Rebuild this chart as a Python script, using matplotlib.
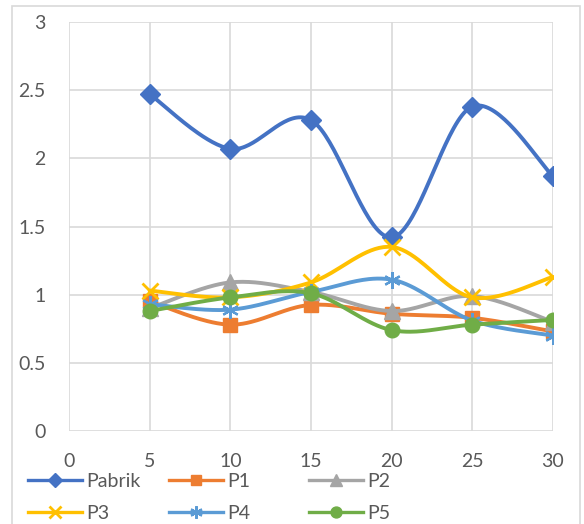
import numpy as np
import matplotlib.pyplot as plt
from matplotlib.lines import Line2D
from matplotlib.patches import Rectangle

plt.rcParams["font.family"] = ["Lato", "DejaVu Sans"]

# sampling distance and measured values per site
jarak = [5, 10, 15, 20, 25, 30]
pabrik = [2.47, 2.07, 2.28, 1.42, 2.38, 1.87]
p1 = [0.95, 0.78, 0.925, 0.86, 0.83, 0.73]
p2 = [0.90, 1.09, 1.02, 0.88, 0.99, 0.80]
p3 = [1.03, 0.98, 1.09, 1.35, 0.98, 1.13]
p4 = [0.93, 0.89, 1.02, 1.11, 0.81, 0.70]
p5 = [0.88, 0.98, 1.01, 0.74, 0.78, 0.815]

series = [
    ("Pabrik", pabrik, "#4472C4", dict(marker="D", markersize=10)),
    ("P1", p1, "#ED7D31", dict(marker="s", markersize=9.5)),
    ("P2", p2, "#A5A5A5", dict(marker="^", markersize=11)),
    ("P3", p3, "#FFC000", dict(marker="x", markersize=11, markeredgewidth=2)),
    ("P4", p4, "#5B9BD5", dict(marker=(6, 2, 0), markersize=12, markeredgewidth=1.6)),
    ("P5", p5, "#70AD47", dict(marker="o", markersize=10.5)),
]


def smooth(x, y, n=40):
    # catmull-rom curve through the points, like a smoothed line chart
    x = np.asarray(x, float)
    y = np.asarray(y, float)
    px = np.concatenate([[x[0]], x, [x[-1]]])
    py = np.concatenate([[y[0]], y, [y[-1]]])
    xs, ys = [], []
    for i in range(1, len(px) - 2):
        t = np.linspace(0, 1, n)
        for p, out in ((px, xs), (py, ys)):
            p0, p1_, p2_, p3_ = p[i - 1], p[i], p[i + 1], p[i + 2]
            m1 = (p2_ - p0) / 2
            m2 = (p3_ - p1_) / 2
            h00 = 2 * t**3 - 3 * t**2 + 1
            h10 = t**3 - 2 * t**2 + t
            h01 = -2 * t**3 + 3 * t**2
            h11 = t**3 - t**2
            out.extend(h00 * p1_ + h10 * m1 + h01 * p2_ + h11 * m2)
    return np.array(xs), np.array(ys)


fig = plt.figure(figsize=(5.84, 5.24), dpi=100)
fig.patches.append(
    Rectangle((12 / 584, -0.01), 568 / 584, 1.01 - 6 / 524, transform=fig.transFigure,
              fill=False, edgecolor="#D9D9D9", linewidth=1.2)
)
ax = fig.add_axes([69 / 584, 93 / 524, 484 / 584, 409 / 524])

handles = []
for k, (name, vals, col, mk) in enumerate(series):
    sx, sy = smooth(jarak, vals)
    ax.plot(sx, sy, color=col, linewidth=2.8, zorder=3 + k, solid_capstyle="round")
    ax.plot(jarak, vals, linestyle="none", color=col, markerfacecolor=col,
            markeredgecolor=col, zorder=3 + k, **mk)
    handles.append(Line2D([], [], color=col, linewidth=2.4, markerfacecolor=col,
                          markeredgecolor=col, label=name, **mk))

ax.set_xlim(0, 30)
ax.set_ylim(0, 3)
ax.set_xticks(np.arange(0, 31, 5))
ax.set_yticks(np.arange(0, 3.01, 0.5))
ax.set_yticklabels(["0", "0.5", "1", "1.5", "2", "2.5", "3"])
ax.grid(True, color="#D9D9D9", linewidth=1.2)
ax.set_axisbelow(True)
for s in ax.spines.values():
    s.set_visible(False)
ax.tick_params(length=0, labelsize=14, labelcolor="#595959")
ax.tick_params(axis="y", pad=17)
ax.tick_params(axis="x", pad=16)

# legend laid out as three equal-width columns, two rows
col_x = [28, 169, 309]
for c in range(3):
    leg = fig.legend(handles=[handles[c], handles[c + 3]], loc="upper left",
                     bbox_to_anchor=(col_x[c] / 584, 1 - 473 / 524),
                     frameon=False, fontsize=14, labelcolor="#595959",
                     handlelength=2.8, handletextpad=0.2, markerscale=0.75,
                     labelspacing=0.75, borderpad=0, borderaxespad=0)

fig.savefig("out.png", dpi=100)
